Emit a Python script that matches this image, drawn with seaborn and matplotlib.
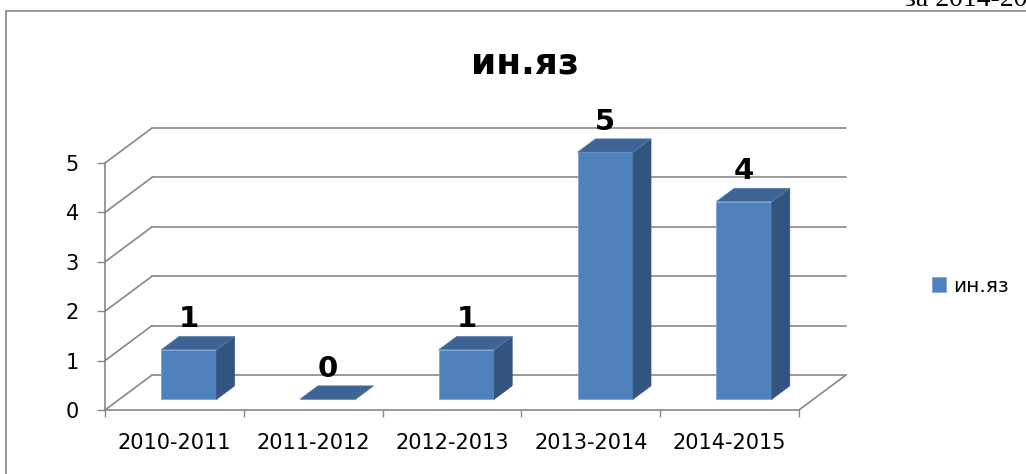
import numpy as np
import pandas as pd
import seaborn as sns
import matplotlib.pyplot as plt
from matplotlib.patches import Polygon, Rectangle

# данные
years = ['2010-2011', '2011-2012', '2012-2013', '2013-2014', '2014-2015']
values = [1, 0, 1, 5, 4]
series_name = 'ин.яз'
y_ticks = [0, 1, 2, 3, 4, 5]

df = pd.DataFrame({'year': years, 'value': values})

# псевдо-3D: сдвиг вглубь (в единицах данных)
DX, DY = 0.339, 0.709
D0, D1 = 0.31, 0.69
BAR_W = 0.4

front_c = '#4F81BD'
top_c = '#3D6494'
side_c = '#32547F'
grid_c = '#878787'

sns.set_style('white')
plt.rcParams['font.family'] = ['DejaVu Sans']
plt.rcParams['text.color'] = 'black'

fig = plt.figure(figsize=(10.26, 4.74), dpi=100)
ax = fig.add_axes([105 / 1026, 64 / 474, 741 / 1026, 282 / 474])

sns.barplot(data=df, x='year', y='value', color=front_c, width=BAR_W,
            saturation=1, label=series_name, ax=ax, zorder=3,
            edgecolor='#7FA6D6', linewidth=0.6)

x_max = len(years) - 0.5
ax.set_xlim(-0.5, x_max + DX)
ax.set_ylim(0, max(y_ticks) + DY)

# стенки и сетка
for v in y_ticks:
    ax.plot([-0.5 + DX, x_max + DX], [v + DY, v + DY], color=grid_c, lw=1.2, zorder=1, clip_on=False)
    ax.plot([-0.5, -0.5 + DX], [v, v + DY], color=grid_c, lw=1.2, zorder=1, clip_on=False)
ax.plot([-0.5, x_max], [0, 0], color=grid_c, lw=1.2, zorder=1, clip_on=False)
ax.plot([x_max, x_max + DX], [0, DY], color=grid_c, lw=1.2, zorder=1, clip_on=False)
ax.plot([-0.5, -0.5], [0, max(y_ticks)], color=grid_c, lw=1.2, zorder=1, clip_on=False)

# объём столбиков
t = D1 - D0
bars = list(ax.patches)
for p, v in zip(bars, values):
    p.set_x(p.get_x() + D0 * DX)
    p.set_y(p.get_y() + D0 * DY)
    x0, b, w, h = p.get_x(), p.get_y(), p.get_width(), p.get_height()
    x1 = x0 + w
    side = Polygon([(x1, b), (x1 + t * DX, b + t * DY), (x1 + t * DX, b + h + t * DY), (x1, b + h)],
                   closed=True, facecolor=side_c, edgecolor=side_c, lw=0.5, zorder=3)
    top = Polygon([(x0, b + h), (x1, b + h), (x1 + t * DX, b + h + t * DY), (x0 + t * DX, b + h + t * DY)],
                  closed=True, facecolor=top_c, edgecolor='#5A80B0', lw=0.5, zorder=4)
    ax.add_patch(side)
    ax.add_patch(top)
    ax.annotate(str(v), (x0 + w / 2, b + h + t * DY), xytext=(0, 6.5), textcoords='offset points',
                ha='center', va='baseline', fontsize=21, fontweight='bold', color='black',
                annotation_clip=False)

sns.despine(ax=ax, left=True, bottom=True, top=True, right=True)
ax.set_xlabel('')
ax.set_ylabel('')
ax.set_yticks(y_ticks)
ax.set_xticks(range(len(years)))
ax.set_xticklabels(years)
ax.set_xticks(np.arange(-0.5, len(years), 1), minor=True)
ax.tick_params(axis='y', left=True, length=5.8, width=1, color=grid_c, pad=13, labelsize=15, labelcolor='black')
ax.tick_params(axis='x', which='major', bottom=True, length=0, pad=16.5, labelsize=15, labelcolor='black')
ax.tick_params(axis='x', which='minor', bottom=True, length=5, width=1, color=grid_c)
ax.patch.set_alpha(0)

# легенда
leg = ax.legend(loc='center left', bbox_to_anchor=(932 / 1026, 1 - 286 / 474), bbox_transform=fig.transFigure,
                frameon=False, fontsize=14.5, handlelength=0.7, handleheight=0.7, handletextpad=0.35,
                borderpad=0, borderaxespad=0)
for txt in leg.get_texts():
    txt.set_color('black')

# заголовок
fig.text(525 / 1026, 1 - 74 / 474, series_name, ha='center', va='baseline', fontsize=26,
         fontweight='bold', color='black')

# рамка диаграммы и обрезанный текст документа над ней
fig.patches.append(Rectangle((6 / 1026, -0.1), 1.2, 1.1 - 11 / 474, transform=fig.transFigure,
                             fill=False, edgecolor='#868686', lw=1.2))
fig.text(905 / 1026, 1 - 6 / 474, 'за 2014-2015', ha='left', va='baseline', fontsize=20,
         color='black', family=['Liberation Serif', 'DejaVu Serif'])

fig.savefig('out.png', dpi=100)
